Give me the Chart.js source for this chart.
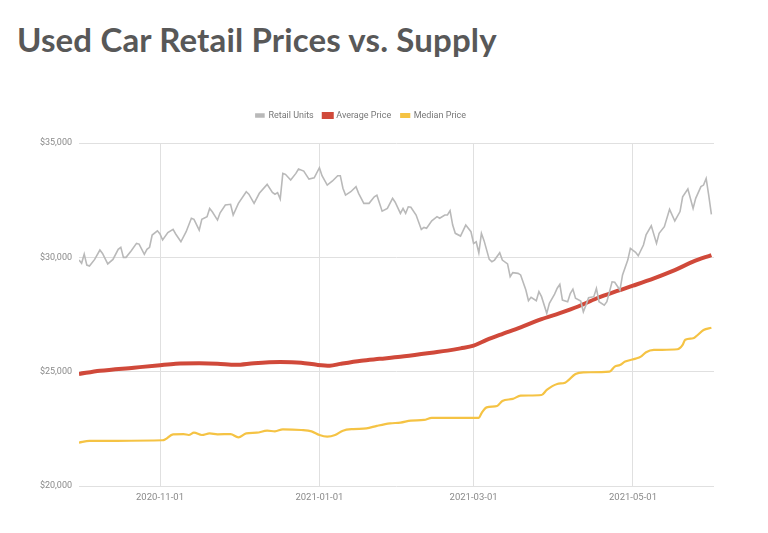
<!DOCTYPE html>
<html>
<head>
<meta charset="utf-8">
<title>Used Car Retail Prices vs. Supply</title>
<script src="https://cdn.jsdelivr.net/npm/chart.js@4.4.1/dist/chart.umd.min.js"></script>
<style>
    html, body { margin: 0; padding: 0; background: #ffffff; }
    body { width: 768px; height: 533px; position: relative; overflow: hidden; }
    h1 {
        position: absolute;
        left: 17px;
        top: 19px;
        margin: 0;
        font-family: Lato, "Open Sans", sans-serif;
        font-weight: 700;
        font-size: 33px;
        line-height: 40px;
        letter-spacing: 0.15px;
        color: #585858;
        white-space: nowrap;
    }
    #chart-box { position: absolute; left: 0; top: 101px; width: 722px; height: 432px; }
</style>
</head>
<body>
<h1>Used Car Retail Prices vs. Supply</h1>
<div id="chart-box"><canvas id="price-chart"></canvas></div>
<script>
// days counted from 2020-10-01
const tickDays = [31, 92, 151, 212];
const tickLabels = ["2020-11-01", "2021-01-01", "2021-03-01", "2021-05-01"];

const retailDays = [0, 1, 2, 3, 4, 6, 8, 9, 11, 13, 15, 16, 17, 18, 20, 22, 23, 25, 26, 27, 28, 30, 31, 32, 34, 36, 37, 39, 41, 43, 44, 46, 47, 49, 50, 51, 53, 54, 56, 58, 59, 61, 64, 65, 67, 69, 72, 74, 75, 76, 77, 78, 79, 81, 83, 84, 86, 88, 90, 92, 93, 95, 97, 99, 100, 101, 102, 104, 106, 107, 109, 111, 113, 114, 116, 118, 120, 121, 123, 124, 125, 126, 127, 129, 131, 132, 133, 135, 137, 138, 140, 141, 142, 143, 144, 146, 148, 150, 151, 152, 153, 154, 155, 157, 158, 159, 161, 162, 164, 165, 166, 168, 169, 171, 172, 173, 175, 176, 177, 179, 180, 182, 183, 184, 185, 187, 188, 189, 190, 192, 193, 194, 195, 197, 198, 199, 201, 202, 204, 205, 207, 208, 210, 211, 213, 214, 216, 217, 219, 221, 222, 224, 226, 228, 230, 231, 233, 235, 236, 238, 239, 240, 241, 242];
const retailUnits = [29880, 29740, 30140, 29660, 29620, 29910, 30320, 30170, 29710, 29910, 30350, 30440, 30000, 30000, 30290, 30610, 30580, 30130, 30350, 30440, 30975, 31160, 31020, 30760, 31080, 31220, 31020, 30680, 31120, 31710, 31660, 31190, 31660, 31780, 32140, 31990, 31630, 31950, 32290, 32320, 31850, 32360, 32870, 32760, 32360, 32800, 33190, 32840, 32760, 32830, 32550, 33670, 33630, 33380, 33670, 33860, 33770, 33420, 33480, 33920, 33570, 33160, 33340, 33570, 33570, 33020, 32720, 32870, 33090, 32800, 32360, 32360, 32650, 32720, 32020, 32140, 32580, 32410, 31920, 32140, 31920, 32210, 32190, 31850, 31220, 31310, 31270, 31600, 31780, 31710, 31850, 31850, 32040, 31410, 31050, 30930, 31410, 31120, 30610, 30680, 30200, 31050, 30730, 29910, 29810, 29880, 30200, 29880, 29710, 29150, 29330, 29300, 29230, 28570, 28100, 28250, 28100, 28500, 28280, 27550, 27990, 28390, 28650, 28820, 28130, 28060, 28420, 28610, 28210, 28090, 27620, 27910, 28230, 28280, 28640, 28060, 27910, 28060, 28930, 28910, 28570, 29230, 29880, 30390, 30220, 30070, 30540, 30980, 31380, 30610, 31050, 31340, 32100, 31590, 32000, 32650, 32990, 32140, 32580, 33090, 33160, 33450, 32700, 31880];

const averageDays = [0, 8, 21, 30, 37, 46, 53, 60, 67, 77, 85, 91, 96, 100, 108, 115, 123, 135, 141, 146, 151, 156, 161, 169, 177, 184, 191, 198, 206, 212, 220, 228, 235, 242];
const averagePrice = [24900, 25040, 25175, 25270, 25350, 25370, 25350, 25300, 25370, 25420, 25390, 25300, 25260, 25340, 25480, 25560, 25650, 25830, 25920, 26020, 26140, 26390, 26610, 26940, 27300, 27560, 27850, 28200, 28530, 28760, 29080, 29440, 29810, 30100];

const medianDays = [0, 4, 32, 33, 36, 40, 42, 44, 47, 50, 53, 58, 61, 64, 68, 72, 75, 78, 85, 89, 92, 95, 98, 101, 105, 110, 114, 119, 123, 127, 132, 135, 153, 154, 156, 160, 162, 166, 169, 177, 179, 183, 186, 190, 193, 203, 205, 207, 209, 213, 215, 217, 220, 229, 231, 232, 235, 236, 239, 242];
const medianPrice = [21900, 21970, 22000, 22040, 22260, 22270, 22230, 22330, 22230, 22300, 22260, 22270, 22130, 22300, 22330, 22420, 22390, 22480, 22450, 22390, 22230, 22160, 22230, 22420, 22490, 22520, 22630, 22740, 22770, 22860, 22890, 22980, 22980, 23180, 23440, 23500, 23720, 23810, 23950, 23980, 24200, 24460, 24520, 24900, 24970, 25000, 25220, 25290, 25440, 25570, 25660, 25850, 25950, 25980, 26170, 26400, 26460, 26530, 26820, 26920];

function toPoints(days, values) {
    return days.map((d, k) => ({ x: d, y: values[k] }));
}

const canvas = document.getElementById("price-chart");

// extra room under the legend
const legendGap = {
    id: "legendGap",
    beforeInit(chart) {
        const fit = chart.legend.fit;
        chart.legend.fit = function () {
            fit.bind(chart.legend)();
            this.height += 13;
        };
    }
};

new Chart(canvas, {
    type: "line",
    data: {
        datasets: [
            {
                label: "Retail Units",
                data: toPoints(retailDays, retailUnits),
                borderColor: "#b9b9b9",
                backgroundColor: "#b9b9b9",
                borderWidth: 1.6,
                pointRadius: 0,
                tension: 0
            },
            {
                label: "Average Price",
                data: toPoints(averageDays, averagePrice),
                borderColor: "#d0493a",
                backgroundColor: "#d0493a",
                borderWidth: 4,
                pointRadius: 0,
                cubicInterpolationMode: "monotone"
            },
            {
                label: "Median Price",
                data: toPoints(medianDays, medianPrice),
                borderColor: "#f5c344",
                backgroundColor: "#f5c344",
                borderWidth: 2.2,
                pointRadius: 0,
                cubicInterpolationMode: "monotone"
            }
        ]
    },
    options: {
        responsive: true,
        maintainAspectRatio: false,
        animation: false,
        layout: { padding: { left: 8, right: 8, top: 0, bottom: 0 } },
        plugins: {
            legend: {
                position: "top",
                labels: {
                    boxWidth: 8,
                    boxHeight: 3,
                    padding: 10,
                    color: "#777777",
                    font: { family: "Roboto", size: 9 }
                }
            },
            tooltip: { enabled: false }
        },
        scales: {
            x: {
                type: "linear",
                min: 0,
                max: 243,
                afterBuildTicks: (scale) => {
                    scale.ticks = tickDays.map(d => ({ value: d }));
                },
                afterFit: (scale) => { scale.height = 47; },
                ticks: {
                    padding: 6,
                    color: "#8a8a8a",
                    font: { family: "Roboto", size: 9.5 },
                    maxRotation: 0,
                    callback: (value) => tickLabels[tickDays.indexOf(value)]
                },
                grid: { color: "#e0e0e0", drawTicks: false },
                border: { display: false }
            },
            y: {
                min: 20000,
                max: 35000,
                afterFit: (scale) => { scale.width = 71; },
                ticks: {
                    stepSize: 5000,
                    padding: 7,
                    color: "#8a8a8a",
                    font: { family: "Roboto", size: 9 },
                    callback: (value) => "$" + value.toLocaleString("en-US")
                },
                grid: { color: "#e0e0e0", drawTicks: false },
                border: { display: false }
            }
        }
    },
    plugins: [legendGap]
});
</script>
</body>
</html>
